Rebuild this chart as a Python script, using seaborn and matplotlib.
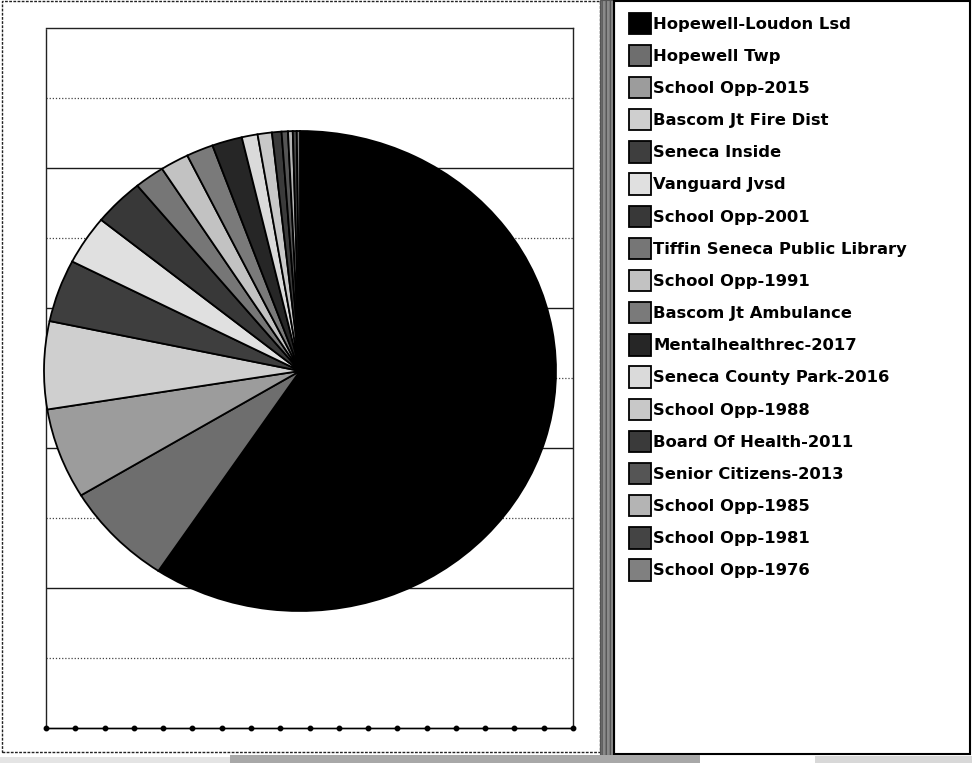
import matplotlib
matplotlib.use("Agg")
import matplotlib.pyplot as plt
from matplotlib.patches import Rectangle
import seaborn as sns
import numpy as np

# ---- data ----
categories = [
    "Hopewell-Loudon Lsd", "Hopewell Twp", "School Opp-2015", "Bascom Jt Fire Dist",
    "Seneca Inside", "Vanguard Jvsd", "School Opp-2001", "Tiffin Seneca Public Library",
    "School Opp-1991", "Bascom Jt Ambulance", "Mentalhealthrec-2017",
    "Seneca County Park-2016", "School Opp-1988", "Board Of Health-2011",
    "Senior Citizens-2013", "School Opp-1985", "School Opp-1981", "School Opp-1976",
]
shares = [59.3, 7.0, 6.1, 5.9, 4.2, 3.3, 3.2, 1.9, 1.8, 1.7, 1.9, 1.0, 0.9, 0.6, 0.4, 0.3, 0.25, 0.2]
slice_colors = ["#000000", "#6e6e6e", "#9c9c9c", "#cfcfcf", "#3e3e3e", "#e0e0e0",
                "#383838", "#767676", "#c2c2c2", "#7a7a7a", "#262626", "#dadada",
                "#c8c8c8", "#3a3a3a", "#555555", "#b4b4b4", "#444444", "#808080"]
x_ticks = list(range(19))
grid_levels = list(range(1, 10))

sns.set_style("white")
plt.rcParams["font.family"] = ["DejaVu Sans"]

W, H = 972, 763
fig = plt.figure(figsize=(W / 100, H / 100), dpi=100)
fig.patch.set_facecolor("white")

def fx(px):
    return px / W

def fy(py):
    return 1 - py / H

# plot area
L, T, R, B = 46, 28, 573, 728
ax = fig.add_axes([fx(L), fy(B), fx(R - L), (B - T) / H])
ax.set_xlim(0, 18)
ax.set_ylim(0, 10)
for lv in grid_levels:
    if lv % 2 == 0:
        ax.axhline(lv, color="#1a1a1a", lw=1.0, ls="-", zorder=0)
    else:
        ax.axhline(lv, color="#444444", lw=0.9, ls=(0, (1, 1.5)), zorder=0)
ax.plot(x_ticks, [0] * len(x_ticks), color="black", lw=1.0, marker="o", ms=3.2,
        clip_on=False, zorder=3)
ax.set_xticks([])
ax.set_yticks([])
for s in ax.spines.values():
    s.set_color("#222222")
    s.set_linewidth(1.0)
ax.spines["left"].set_linestyle((0, (2, 1)))

# pie axes overlaying plot area (elliptical pie)
cx, cy, rx, ry = 300, 371, 256, 240
pax = fig.add_axes([fx(L), fy(B), fx(R - L), (B - T) / H])
pax.set_facecolor("none")
wedges, _ = pax.pie(shares, colors=slice_colors, startangle=90, counterclock=False,
                    wedgeprops=dict(edgecolor="black", linewidth=1.3))
pax.set_aspect("auto")
pax.set_xlim(-(cx - L) / rx, (R - cx) / rx)
pax.set_ylim(-(B - cy) / ry, (cy - T) / ry)
pax.axis("off")

# legend
fs = 11.8
leg = fig.legend(wedges, categories, loc="upper left",
                 bbox_to_anchor=(fx(622), fy(6)), frameon=False,
                 prop=dict(weight="bold", size=fs), labelcolor="black",
                 handlelength=1.34, handleheight=1.62, handletextpad=0.18,
                 labelspacing=0.665, borderaxespad=0)

# panel frames
fig.patches.append(Rectangle((fx(2), fy(752)), fx(598), (751) / H, transform=fig.transFigure,
                             fill=False, ec="#222222", lw=1.0, ls=(0, (2, 1))))
fig.patches.append(Rectangle((fx(600), fy(755)), fx(14), 755 / H, transform=fig.transFigure,
                             fc="#8a8a8a", ec="#555555", lw=0.8, hatch="||||"))
fig.patches.append(Rectangle((fx(614), fy(754)), fx(356), 753 / H, transform=fig.transFigure,
                             fill=False, ec="black", lw=1.5))
fig.patches.append(Rectangle((fx(230), fy(763)), fx(470), 8 / H, transform=fig.transFigure,
                             fc="#a8a8a8", ec="none"))
fig.patches.append(Rectangle((fx(0), fy(763)), fx(230), 6 / H, transform=fig.transFigure,
                             fc="#e4e4e4", ec="none"))
fig.patches.append(Rectangle((fx(815), fy(763)), fx(157), 7 / H, transform=fig.transFigure,
                             fc="#d8d8d8", ec="none"))

fig.savefig("out.png", dpi=100, facecolor="white")
